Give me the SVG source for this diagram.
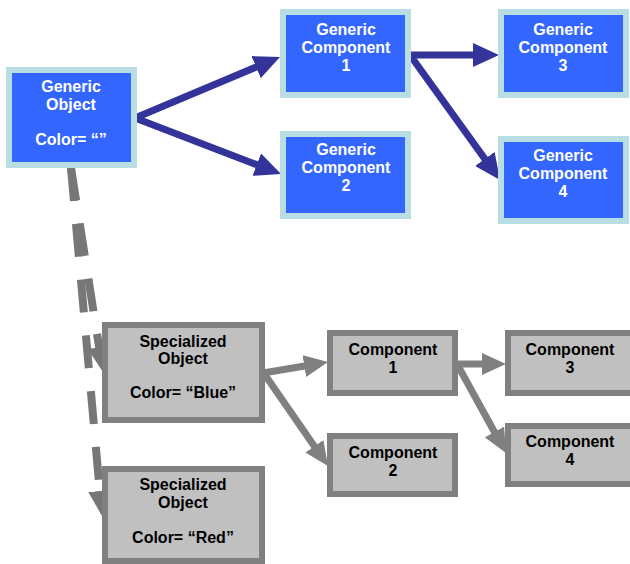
<svg xmlns="http://www.w3.org/2000/svg" width="630" height="564" viewBox="0 0 630 564">
<style>
.bn{fill:#3366ff;stroke:#b8dde3;stroke-width:6}
.gn{fill:#c0c0c0;stroke:#808080;stroke-width:6}
.bt{fill:#ffffff;font-family:"Liberation Sans",Arial,sans-serif;font-weight:bold;font-size:16px;text-anchor:middle}
.gt{fill:#000000;font-family:"Liberation Sans",Arial,sans-serif;font-weight:bold;font-size:16px;text-anchor:middle}
.ba{stroke:#333399;stroke-width:7;fill:none;marker-end:url(#mb)}
.ga{stroke:#808080;stroke-width:7;fill:none;marker-end:url(#mg)}
.da{stroke:#777777;stroke-width:8;fill:none;stroke-dasharray:33 23;marker-end:url(#md)}
</style>
<defs>
<marker id="mb" viewBox="0 0 26 24" refX="16" refY="12" markerWidth="26" markerHeight="24" markerUnits="userSpaceOnUse" orient="auto"><path d="M0,0 L26,12 L0,24 z" fill="#333399"/></marker>
<marker id="mg" viewBox="0 0 24 22" refX="14" refY="11" markerWidth="24" markerHeight="22" markerUnits="userSpaceOnUse" orient="auto"><path d="M0,0 L24,11 L0,22 z" fill="#808080"/></marker>
<marker id="md" viewBox="0 0 25 23" refX="15" refY="11.5" markerWidth="25" markerHeight="23" markerUnits="userSpaceOnUse" orient="auto"><path d="M0,0 L25,11.5 L0,23 z" fill="#777777"/></marker>
</defs>
<rect width="630" height="564" fill="#ffffff"/>
<g id="connectors">
<line class="ba" x1="135" y1="118" x2="270.8" y2="60.9"/>
<line class="ba" x1="135" y1="118" x2="271.7" y2="170.4"/>
<line class="ba" x1="408" y1="55" x2="489" y2="55"/>
<line class="ba" x1="410" y1="55" x2="494.2" y2="171.9"/>
<line class="ga" x1="263" y1="373" x2="318.1" y2="363.7"/>
<line class="ga" x1="263" y1="372" x2="322.3" y2="457.8"/>
<line class="ga" x1="456" y1="364" x2="496" y2="364"/>
<line class="ga" x1="457" y1="364" x2="501.2" y2="444.2"/>
<line class="da" x1="71" y1="168" x2="101.45" y2="362.1"/>
<line class="da" x1="71" y1="168" x2="101.1" y2="506"/>
</g>
<g id="generic-object">
<rect class="bn" x="9" y="70" width="125" height="95"/>
<text class="bt" x="71" y="92">Generic</text>
<text class="bt" x="71" y="110">Object</text>
<text class="bt" x="71" y="145">Color= “”</text>
</g>
<g id="generic-component-1">
<rect class="bn" x="283" y="12" width="125" height="83"/>
<text class="bt" x="346" y="35">Generic</text>
<text class="bt" x="346" y="53">Component</text>
<text class="bt" x="346" y="71">1</text>
</g>
<g id="generic-component-2">
<rect class="bn" x="283" y="134" width="125" height="82"/>
<text class="bt" x="346" y="155">Generic</text>
<text class="bt" x="346" y="173">Component</text>
<text class="bt" x="346" y="191">2</text>
</g>
<g id="generic-component-3">
<rect class="bn" x="501" y="12" width="125" height="83"/>
<text class="bt" x="563" y="35">Generic</text>
<text class="bt" x="563" y="53">Component</text>
<text class="bt" x="563" y="71">3</text>
</g>
<g id="generic-component-4">
<rect class="bn" x="501" y="139" width="125" height="82"/>
<text class="bt" x="563" y="161">Generic</text>
<text class="bt" x="563" y="179">Component</text>
<text class="bt" x="563" y="197">4</text>
</g>
<g id="specialized-object-blue">
<rect class="gn" x="105" y="325" width="157" height="95"/>
<text class="gt" x="183" y="347">Specialized</text>
<text class="gt" x="183" y="364">Object</text>
<text class="gt" x="183" y="398">Color= “Blue”</text>
</g>
<g id="specialized-object-red">
<rect class="gn" x="105" y="469" width="157" height="92"/>
<text class="gt" x="183" y="490">Specialized</text>
<text class="gt" x="183" y="508">Object</text>
<text class="gt" x="183" y="543">Color= “Red”</text>
</g>
<g id="component-1">
<rect class="gn" x="330" y="333" width="125" height="60"/>
<text class="gt" x="393" y="355">Component</text>
<text class="gt" x="393" y="373">1</text>
</g>
<g id="component-2">
<rect class="gn" x="330" y="436" width="125" height="58"/>
<text class="gt" x="393" y="458">Component</text>
<text class="gt" x="393" y="476">2</text>
</g>
<g id="component-3">
<rect class="gn" x="508" y="333" width="125" height="60"/>
<text class="gt" x="570" y="355">Component</text>
<text class="gt" x="570" y="373">3</text>
</g>
<g id="component-4">
<rect class="gn" x="508" y="426" width="125" height="58"/>
<text class="gt" x="570" y="447">Component</text>
<text class="gt" x="570" y="465">4</text>
</g>
</svg>
